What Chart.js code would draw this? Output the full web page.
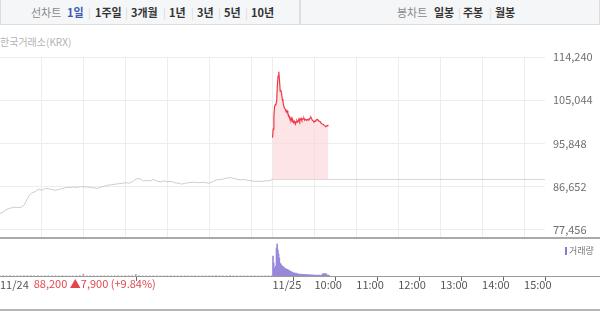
<!DOCTYPE html>
<html>
<head>
<meta charset="utf-8">
<script src="https://cdn.jsdelivr.net/npm/chart.js@4"></script>
<style>
  body { margin: 0; width: 600px; height: 312px; overflow: hidden; background: #fff; position: relative;
         font-family: "Noto Sans CJK KR", "Noto Sans", sans-serif; }
  .bar { position: absolute; top: 0; height: 25px; background: #f5f6f8; border: 1px solid #dcdee2; border-top: 0; box-sizing: border-box; }
  .bar span { position: absolute; top: 4px; font-size: 11px; line-height: 16px; font-weight: bold; color: #333; white-space: nowrap; }
  .bar span.t { color: #8a8a8a; font-weight: normal; }
  .bar span.on { color: #3b5bb0; }
  .bar span.sep { color: #dadada; font-weight: normal; }
  .src { position: absolute; left: 0; top: 34px; font-size: 10px; color: #b3b3b3; }
  .line { position: absolute; left: 0; width: 600px; }
  .legend { position: absolute; left: 565px; top: 245px; font-size: 9px; color: #777; line-height: 12px; }
  .legend i { display: inline-block; width: 2px; height: 8px; background: #8b79d0; margin-right: 2px; vertical-align: -1px; }
  canvas { position: absolute; left: 0; }
</style>
</head>
<body>
<div class="bar" style="left:0;width:300px">
  <span class="t" style="left:30px">선차트</span>
  <span class="on" style="left:66px">1일</span>
  <span class="sep" style="left:87px">|</span>
  <span style="left:94px">1주일</span>
  <span class="sep" style="left:124px">|</span>
  <span style="left:130px">3개월</span>
  <span class="sep" style="left:162px">|</span>
  <span style="left:168px">1년</span>
  <span class="sep" style="left:190px">|</span>
  <span style="left:196px">3년</span>
  <span class="sep" style="left:217px">|</span>
  <span style="left:223px">5년</span>
  <span class="sep" style="left:244px">|</span>
  <span style="left:250px">10년</span>
</div>
<div class="bar" style="left:300px;width:300px">
  <span class="t" style="left:96px">봉차트</span>
  <span style="left:133px">일봉</span>
  <span class="sep" style="left:157px">|</span>
  <span style="left:162px">주봉</span>
  <span class="sep" style="left:188px">|</span>
  <span style="left:194px">월봉</span>
</div>
<div class="src">한국거래소(KRX)</div>

<canvas id="priceChart" width="600" height="193" style="top:45px"></canvas>
<div class="line" style="top:237px;height:2px;background:#a9a9a9"></div>
<canvas id="volChart" width="600" height="60" style="top:240px"></canvas>
<div class="line" style="top:276px;height:1px;background:#9a9a9a"></div>
<div class="legend"><i></i>거래량</div>
<div class="line" style="top:309px;height:2px;background:#b5b5b5"></div>

<script>
// minutes on the x axis: 11/24 session 0..390, 11/25 session 390..780
const sessionLen = 390;
const day1Step = 5;
const day2Step = 1;
const prevClose = 88200;

// 11/24, every 5 minutes 09:00 - 15:30
const day1Prices = [81000, 81300, 81900, 82100, 82300, 82200, 82300, 82800, 84400, 85300,
  85600, 86100, 85900, 86300, 86200, 86000, 85900, 86100, 86300, 86500,
  86500, 86600, 86500, 86700, 86600, 86600, 86500, 86400, 86300, 86600,
  86800, 87000, 87100, 87200, 87300, 87400, 87500, 87400, 87800, 88300,
  88400, 87900, 88000, 87900, 88200, 87800, 87700, 87900, 87700, 87800,
  87500, 87400, 87200, 87400, 87500, 87600, 87600, 87500, 87600, 87500,
  87400, 87800, 88100, 88200, 88300, 88500, 88600, 88400, 88200, 88100,
  88200, 88000, 87900, 87800, 87800, 87800, 87900, 87900, 88200];

// 11/25, every minute 09:00 - 10:20
const day2Prices = [97100, 98900, 101700, 103700, 104100, 104300, 104900, 108300, 110200, 111100,
  109300, 107000, 107200, 106400, 105300, 104700, 103900, 103400, 103200, 102800,
  102600, 102800, 102200, 101900, 101600, 101000, 100900, 101200, 100500, 100800,
  100300, 100600, 100200, 100000, 100500, 100700, 100400, 100600, 101100, 100600,
  101000, 101200, 100800, 101000, 101100, 101200, 100800, 101000, 100900, 100800,
  100900, 101000, 100900, 101100, 101300, 101400, 101100, 100800, 100700, 100500,
  100500, 100600, 100800, 100900, 101000, 100800, 100700, 100600, 100500, 100300,
  100100, 100000, 100000, 99900, 99700, 99600, 99400, 99500, 99600, 99700, 99800];

const day1Vol = [20000, 15000, 12000, 15000, 10000, 12000, 15000, 18000, 20000, 15000,
  12000, 15000, 10000, 12000, 15000, 10000, 12000, 10000, 15000, 12000,
  10000, 12000, 10000, 15000, 90000, 12000, 10000, 12000, 10000, 12000,
  10000, 12000, 10000, 12000, 15000, 10000, 12000, 15000, 20000, 80000,
  15000, 12000, 10000, 12000, 10000, 12000, 10000, 8000, 10000, 12000,
  10000, 8000, 10000, 12000, 10000, 8000, 10000, 8000, 10000, 12000,
  10000, 12000, 15000, 12000, 10000, 12000, 15000, 10000, 8000, 10000,
  8000, 10000, 8000, 10000, 12000, 10000, 12000, 15000, 20000];

const day2Vol = [1000000, 650000, 400000, 350000, 500000, 1400000, 1600000, 1300000, 1100000, 900000,
  650000, 600000, 550000, 500000, 450000, 460000, 410000, 360000, 370000, 340000,
  300000, 330000, 290000, 260000, 250000, 240000, 210000, 190000, 170000, 160000,
  150000, 140000, 120000, 140000, 110000, 100000, 90000, 95000, 80000, 85000,
  90000, 75000, 70000, 80000, 65000, 70000, 60000, 65000, 55000, 60000,
  50000, 55000, 60000, 50000, 45000, 55000, 45000, 40000, 50000, 40000,
  35000, 45000, 40000, 35000, 40000, 45000, 35000, 40000, 30000, 35000,
  40000, 90000, 120000, 100000, 130000, 80000, 110000, 50000, 40000, 45000, 35000];

const yTicks = [77456, 86652, 95848, 105044, 114240];
const yMin = 75750;
const yMax = 114240;
const gridMinutes = [60, 120, 180, 240, 300, 360, 390, 450, 510, 570, 630, 690, 750];
const xTickMinutes = [0, 390, 450, 510, 570, 630, 690, 750];
const xTickLabels = ["11/24", "11/25", "10:00", "11:00", "12:00", "13:00", "14:00", "15:00"];
const changeLabel = "88,200 ▲7,900 (+9.84%)";
const volMax = 1800000;

const day1Points = day1Prices.map((v, i) => ({ x: i * day1Step, y: v }));
const day2Points = day2Prices.map((v, i) => ({ x: sessionLen + i * day2Step, y: v }));
const day1VolPoints = day1Vol.map((v, i) => ({ x: i * day1Step, y: v }));
const day2VolPoints = day2Vol.map((v, i) => ({ x: sessionLen + i * day2Step, y: v }));

const FONT = '"Noto Sans CJK KR", "Noto Sans", sans-serif';
Chart.defaults.font.family = FONT;

const noPad = (s) => { s.paddingLeft = 0; s.paddingRight = 0; s.paddingTop = 0; s.paddingBottom = 0; };

new Chart(document.getElementById("priceChart"), {
  type: "line",
  data: {
    datasets: [
      { data: day1Points, borderColor: "#cdcdcd", borderWidth: 1, pointRadius: 0, tension: 0 },
      { data: day2Points, borderColor: "#ec3a44", borderWidth: 1.2, pointRadius: 0, tension: 0,
        fill: { value: prevClose }, backgroundColor: "rgba(252, 212, 215, 0.6)" },
      { data: [{ x: sessionLen, y: prevClose }, { x: sessionLen * 2, y: prevClose }],
        borderColor: "#b0b0b0", borderWidth: 1, borderDash: [1, 1], pointRadius: 0 },
    ],
  },
  options: {
    responsive: false,
    animation: false,
    layout: { padding: { top: 12, left: 0, right: 0, bottom: 0 } },
    plugins: { legend: { display: false }, tooltip: { enabled: false } },
    scales: {
      x: {
        type: "linear",
        min: 0,
        max: sessionLen * 2,
        afterBuildTicks: (s) => { s.ticks = gridMinutes.map((v) => ({ value: v })); },
        afterFit: (s) => { s.height = 0; noPad(s); },
        ticks: { display: false },
        grid: { color: "#ededed", drawTicks: false },
        border: { display: false },
      },
      y: {
        position: "right",
        min: yMin,
        max: yMax,
        afterBuildTicks: (s) => { s.ticks = yTicks.map((v) => ({ value: v })); },
        afterFit: (s) => { s.width = 55; noPad(s); },
        ticks: {
          padding: 8,
          color: "#6f6f6f",
          font: { size: 11 },
          callback: (v) => v.toLocaleString("en-US"),
        },
        grid: { color: "#ededed", drawTicks: false },
        border: { display: false },
      },
    },
  },
});

const changeText = {
  id: "changeText",
  afterDraw(chart) {
    const { ctx } = chart;
    const x = chart.scales.x;
    ctx.save();
    ctx.font = "11px " + FONT;
    const left = x.getPixelForValue(xTickMinutes[0]) + ctx.measureText(xTickLabels[0]).width + 5;
    ctx.fillStyle = "#e2454c";
    ctx.textBaseline = "middle";
    ctx.fillText(changeLabel, left, x.top + 8);
    ctx.restore();
  },
};

new Chart(document.getElementById("volChart"), {
  type: "bar",
  data: {
    datasets: [
      { data: day1VolPoints, backgroundColor: "#a8a8a8", barThickness: 1 },
      { data: day2VolPoints, backgroundColor: "#9a88d8", barThickness: 1 },
    ],
  },
  options: {
    responsive: false,
    animation: false,
    layout: { padding: { top: 0, left: 0, right: 55, bottom: 0 } },
    plugins: { legend: { display: false }, tooltip: { enabled: false } },
    scales: {
      x: {
        type: "linear",
        min: 0,
        max: sessionLen * 2,
        offset: false,
        afterBuildTicks: (s) => { s.ticks = xTickMinutes.map((v) => ({ value: v })); },
        afterFit: (s) => { s.height = 24; noPad(s); },
        ticks: {
          align: "start",
          maxRotation: 0,
          autoSkip: false,
          padding: -3,
          color: "#555",
          font: { size: 11 },
          callback: (v, i) => xTickLabels[i],
        },
        grid: { drawOnChartArea: false, drawTicks: true, tickLength: 5, color: "#666" },
        border: { display: false },
      },
      y: { display: false, min: 0, max: volMax },
    },
  },
  plugins: [changeText],
});
</script>
</body>
</html>
